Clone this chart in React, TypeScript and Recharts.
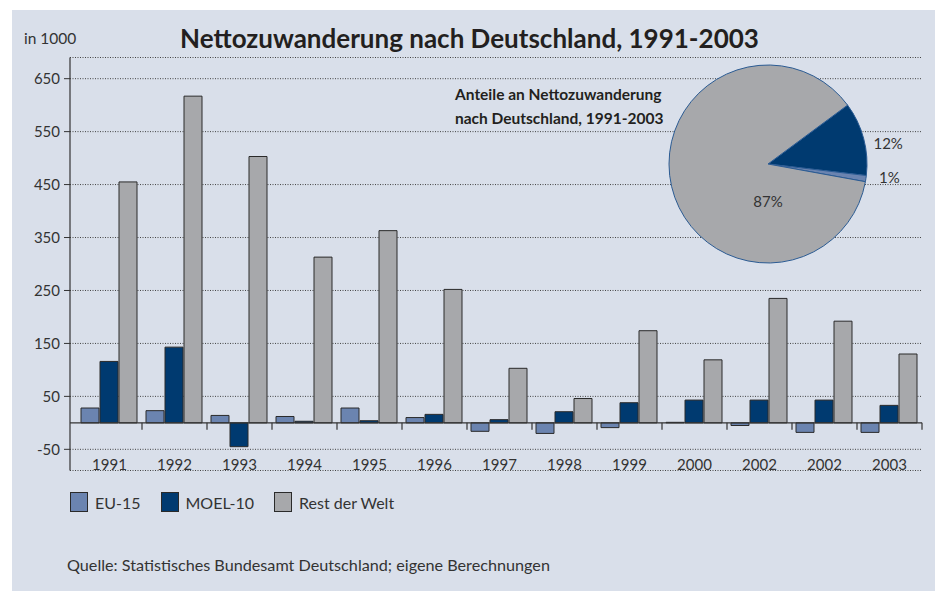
import React from 'react';
import { BarChart, Bar, XAxis, YAxis, CartesianGrid, ReferenceLine, PieChart, Pie, Cell } from 'recharts';

const categories = ['1991', '1992', '1993', '1994', '1995', '1996', '1997', '1998', '1999', '2000', '2002', '2002', '2003'];
const eu15 = [28, 23, 14, 12, 28, 10, -16, -20, -9, 1, -5, -18, -18];
const moel10 = [116, 143, -45, 3, 4, 16, 6, 21, 38, 43, 43, 43, 33];
const restWelt = [455, 617, 503, 313, 363, 252, 103, 46, 174, 119, 235, 192, 130];
const yTicks = [-50, 50, 150, 250, 350, 450, 550, 650];

const seriesNames = ['EU-15', 'MOEL-10', 'Rest der Welt'];
const seriesColors = ['#6b84b0', '#003a70', '#a7a8ab'];

const pieNames = ['MOEL-10', 'EU-15', 'Rest der Welt'];
const pieShares = [12, 1, 87];
const pieColors = ['#003a70', '#6b84b0', '#a7a8ab'];

const data = categories.map((c, i) => ({ idx: i, year: c, eu: eu15[i], moel: moel10[i], rest: restWelt[i] }));
const pieData = pieNames.map((n, i) => ({ name: n, value: pieShares[i] }));

const FONT = 'Lato, "Open Sans", sans-serif';
const RADIAN = Math.PI / 180;

const XTick = (props: any) => {
  const { x, y, payload } = props;
  return (
    <text x={x} y={y - 6.5} textAnchor="middle" dominantBaseline="central" fill="#333" fontSize={15} fontFamily={FONT}>
      {categories[payload.value]}
    </text>
  );
};

const pieLabel = (props: any) => {
  const { cx, cy, midAngle, outerRadius, index, value } = props;
  let lx: number;
  let ly: number;
  if (index === 2) {
    lx = cx;
    ly = cy + outerRadius * 0.37;
  } else {
    const a = index === 0 ? midAngle - 5 : midAngle + 2.5;
    const r = outerRadius + 23;
    lx = cx + r * Math.cos(-a * RADIAN);
    ly = cy + r * Math.sin(-a * RADIAN);
  }
  return (
    <text x={lx} y={ly} textAnchor="middle" dominantBaseline="central" fill="#333" fontSize={15} fontFamily={FONT}>
      {`${value}%`}
    </text>
  );
};

export default function App() {
  return (
    <div style={{ position: 'absolute', left: 0, top: 0, width: 935, height: 591, background: '#fff', fontFamily: FONT, overflow: 'hidden' }}>
      <div style={{ position: 'absolute', left: 12, top: 10, width: 923, height: 581, background: '#d9dfea' }} />
      <div style={{ position: 'absolute', left: 24, top: 29, fontSize: 15.5, color: '#333', lineHeight: '18px' }}>in 1000</div>
      <div style={{ position: 'absolute', left: 0, width: 939, top: 21, textAlign: 'center', fontSize: 26, fontWeight: 700, color: '#231f20', lineHeight: '34px' }}>
        Nettozuwanderung nach Deutschland, 1991-2003
      </div>
      <div style={{ position: 'absolute', left: 0, top: 0 }}>
        <BarChart
          width={935}
          height={591}
          data={data}
          margin={{ top: 57.5, right: 13, bottom: 90.5, left: 0 }}
          barCategoryGap={4}
          barGap={1}
        >
          <CartesianGrid vertical={false} stroke="#444" strokeDasharray="1 1.5" />
          <XAxis
            dataKey="idx"
            type="category"
            height={30}
            axisLine={false}
            tickLine={false}
            tickSize={0}
            tickMargin={0}
            padding={{ left: 7, right: 0 }}
            tick={<XTick />}
            interval={0}
          />
          <YAxis
            width={70}
            domain={[-90, 690]}
            ticks={yTicks}
            interval={0}
            axisLine={{ stroke: '#333', strokeWidth: 1.2 }}
            tickLine={{ stroke: '#333' }}
            tickSize={6}
            tickMargin={4}
            tick={{ fill: '#333', fontSize: 15, fontFamily: FONT }}
          />
          <ReferenceLine y={0} stroke="#333" strokeWidth={1.2} />
          {data.map((d) => (
            <ReferenceLine
              key={d.idx}
              position="end"
              ifOverflow="visible"
              segment={[{ x: d.idx, y: 0 }, { x: d.idx, y: -13 }]}
              stroke="#333"
              strokeWidth={1.2}
            />
          ))}
          <Bar dataKey="eu" name={seriesNames[0]} fill={seriesColors[0]} stroke="#2a2a2a" strokeWidth={1} isAnimationActive={false} />
          <Bar dataKey="moel" name={seriesNames[1]} fill={seriesColors[1]} stroke="#2a2a2a" strokeWidth={1} isAnimationActive={false} />
          <Bar dataKey="rest" name={seriesNames[2]} fill={seriesColors[2]} stroke="#2a2a2a" strokeWidth={1} isAnimationActive={false} />
        </BarChart>
      </div>
      <div style={{ position: 'absolute', left: 618, top: 14 }}>
        <PieChart width={300} height={300} margin={{ top: 0, right: 0, bottom: 0, left: 0 }}>
          <Pie
            data={pieData}
            dataKey="value"
            nameKey="name"
            cx={150}
            cy={150}
            outerRadius={99}
            startAngle={36.5}
            endAngle={-323.5}
            stroke="#2b5b93"
            strokeWidth={1}
            label={pieLabel}
            labelLine={false}
            isAnimationActive={false}
          >
            {pieData.map((d, i) => (
              <Cell key={i} fill={pieColors[i]} />
            ))}
          </Pie>
        </PieChart>
      </div>
      <div style={{ position: 'absolute', left: 455, top: 82, fontSize: 15.5, fontWeight: 700, color: '#231f20', lineHeight: '24px' }}>
        Anteile an Nettozuwanderung<br />nach Deutschland, 1991-2003
      </div>
      <div style={{ position: 'absolute', left: 70, top: 492, display: 'flex', alignItems: 'center', fontSize: 16, color: '#333' }}>
        {seriesNames.map((n, i) => (
          <div key={n} style={{ display: 'flex', alignItems: 'center', marginRight: 20 }}>
            <div style={{ width: 18, height: 20, background: seriesColors[i], border: '1px solid #2a2a2a', boxSizing: 'border-box', marginRight: 7 }} />
            <span>{n}</span>
          </div>
        ))}
      </div>
      <div style={{ position: 'absolute', left: 67, top: 554, fontSize: 16.2, color: '#333', lineHeight: '22px' }}>
        Quelle: Statistisches Bundesamt Deutschland; eigene Berechnungen
      </div>
    </div>
  );
}
